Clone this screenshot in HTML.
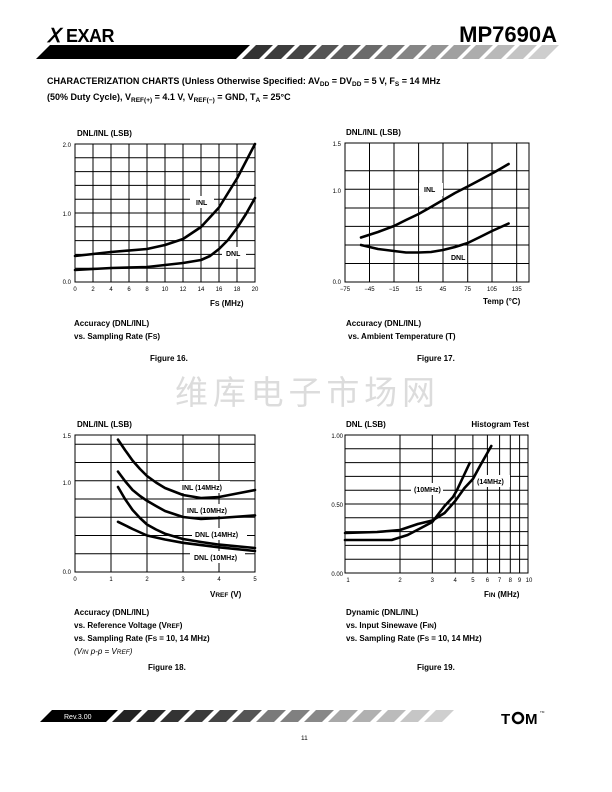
<!DOCTYPE html>
<html><head><meta charset="utf-8"><style>
html,body{margin:0;padding:0;background:#fff}
svg{display:block}
text{font-family:"Liberation Sans",Arial,sans-serif}
</style></head><body>
<svg width="612" height="792" viewBox="0 0 612 792" xmlns="http://www.w3.org/2000/svg">
<!-- Header -->
<text x="47" y="42" font-size="19" font-weight="bold" font-style="italic" fill="#000">Ⅹ</text>
<text x="66" y="42" font-size="18" font-weight="bold" fill="#000" letter-spacing="-0.5">EXAR</text>
<text x="557" y="42" font-size="22" font-weight="bold" text-anchor="end" fill="#000">MP7690A</text>
<polygon points="36,59 50,45 250,45 236,59" fill="#000"/>
<g>
<polygon points="242,59 256,45 273,45 259,59" fill="#333"/>
<polygon points="264,59 278,45 295,45 281,59" fill="#3c3c3c"/>
<polygon points="286,59 300,45 317,45 303,59" fill="#454545"/>
<polygon points="308,59 322,45 339,45 325,59" fill="#555"/>
<polygon points="330,59 344,45 361,45 347,59" fill="#5f5f5f"/>
<polygon points="352,59 366,45 383,45 369,59" fill="#6a6a6a"/>
<polygon points="374,59 388,45 405,45 391,59" fill="#777"/>
<polygon points="396,59 410,45 427,45 413,59" fill="#858585"/>
<polygon points="418,59 432,45 449,45 435,59" fill="#939393"/>
<polygon points="440,59 454,45 471,45 457,59" fill="#a0a0a0"/>
<polygon points="462,59 476,45 493,45 479,59" fill="#adadad"/>
<polygon points="484,59 498,45 515,45 501,59" fill="#b9b9b9"/>
<polygon points="506,59 520,45 537,45 523,59" fill="#c4c4c4"/>
<polygon points="528,59 542,45 559,45 545,59" fill="#cecece"/>
</g>
<text x="47" y="84" font-size="9" font-weight="bold">CHARACTERIZATION CHARTS (Unless Otherwise Specified:  AV<tspan font-size="6.5" dy="2">DD</tspan><tspan dy="-2"> = DV</tspan><tspan font-size="6.5" dy="2">DD</tspan><tspan dy="-2"> = 5 V, F</tspan><tspan font-size="6.5" dy="2">S</tspan><tspan dy="-2"> = 14 MHz</tspan></text>
<text x="47" y="100" font-size="9" font-weight="bold">(50% Duty Cycle), V<tspan font-size="6.5" dy="2">REF(+)</tspan><tspan dy="-2"> = 4.1 V, V</tspan><tspan font-size="6.5" dy="2">REF(−)</tspan><tspan dy="-2"> = GND, T</tspan><tspan font-size="6.5" dy="2">A</tspan><tspan dy="-2"> = 25°C</tspan></text>

<!-- Chart 16 -->
<g stroke="#000" stroke-width="1" fill="none">
<rect x="75" y="144" width="180" height="138"/>
<path d="M93,144V282M111,144V282M129,144V282M147,144V282M165,144V282M183,144V282M201,144V282M219,144V282M237,144V282"/>
<path d="M75,157.8H255M75,171.6H255M75,185.4H255M75,199.2H255M75,213H255M75,226.8H255M75,240.6H255M75,254.4H255M75,268.2H255"/>
</g>
<rect x="190" y="196" width="24" height="12" fill="#fff"/>
<rect x="222" y="247" width="24" height="12" fill="#fff"/>
<g stroke="#000" stroke-width="2.6" fill="none" stroke-linejoin="round" stroke-linecap="round">
<polyline points="75,256 111,252 147,249 165,245 183,239 201,227 219,207.5 237,178.5 255,144"/>
<polyline points="75,270 111,268 147,267 165,265 183,263 201,260 210,256 219,249 228,240 237,228 246,214 255,198"/>
</g>
<g font-size="7" font-weight="bold">
<text x="196" y="205">INL</text><text x="226" y="256">DNL</text>
<text x="77" y="136" font-size="8">DNL/INL (LSB)</text>
<text x="210" y="306" font-size="8">F<tspan font-size="7">S</tspan>   (MHz)</text>
</g>
<g font-size="6" text-anchor="end"><text x="71" y="147">2.0</text><text x="71" y="216">1.0</text><text x="71" y="284">0.0</text></g>
<g font-size="6" text-anchor="middle">
<text x="75" y="291">0</text><text x="93" y="291">2</text><text x="111" y="291">4</text><text x="129" y="291">6</text><text x="147" y="291">8</text><text x="165" y="291">10</text><text x="183" y="291">12</text><text x="201" y="291">14</text><text x="219" y="291">16</text><text x="237" y="291">18</text><text x="255" y="291">20</text>
</g>
<g font-size="8" font-weight="bold"><text x="74" y="326">Accuracy (DNL/INL)</text><text x="74" y="339">vs. Sampling Rate (F<tspan font-size="7">S</tspan>)</text><text x="150" y="361">Figure 16.</text></g>

<!-- Chart 17 -->
<g stroke="#000" stroke-width="1" fill="none">
<rect x="345" y="143" width="184" height="139"/>
<path d="M369.5,143V282M394,143V282M418.6,143V282M443,143V282M467.7,143V282M492,143V282M516.7,143V282"/>
<path d="M345,170.8H529M345,189.3H529M345,208H529M345,226.4H529M345,245H529M345,263.5H529"/>
</g>
<rect x="419" y="183" width="24" height="13" fill="#fff"/>
<g stroke="#000" stroke-width="2.6" fill="none" stroke-linejoin="round" stroke-linecap="round">
<polyline points="361,237.5 378,232 394,226 406,220 418.6,214 431,207 443,200 455,193 467.7,186.5 480,180 492,173.5 500,169 508.6,164"/>
<polyline points="361,245 378,249 394,251 406,252.5 418.6,252.5 431,252 443,250 455,247 467.7,243 480,237 492,231 508.6,223.5"/>
</g>
<g font-size="7" font-weight="bold"><text x="424" y="192">INL</text><text x="451" y="260">DNL</text>
<text x="346" y="135" font-size="8">DNL/INL (LSB)</text>
<text x="483" y="304" font-size="8">Temp (°C)</text></g>
<g font-size="6" text-anchor="end"><text x="341" y="146">1.5</text><text x="341" y="193">1.0</text><text x="341" y="284">0.0</text></g>
<g font-size="6" text-anchor="middle">
<text x="345" y="291">−75</text><text x="369.5" y="291">−45</text><text x="394" y="291">−15</text><text x="418.6" y="291">15</text><text x="443" y="291">45</text><text x="467.7" y="291">75</text><text x="492" y="291">105</text><text x="516.7" y="291">135</text>
</g>
<g font-size="8" font-weight="bold"><text x="346" y="326">Accuracy (DNL/INL)</text><text x="348" y="339">vs.  Ambient Temperature (T)</text><text x="417" y="361">Figure 17.</text></g>

<!-- Watermark -->
<text x="175" y="404" font-size="33" fill="#dcdcdc" font-family="'Noto Serif CJK SC','WenQuanYi Zen Hei',serif" textLength="260">维库电子市场网</text>

<!-- Chart 18 -->
<g stroke="#000" stroke-width="1" fill="none">
<rect x="75" y="435" width="180" height="137"/>
<path d="M111,435V572M147,435V572M183,435V572M219,435V572"/>
<path d="M75,444.2H255M75,462.5H255M75,480.7H255M75,499H255M75,517.2H255M75,535.5H255M75,553.7H255"/>
</g>
<rect x="180" y="481" width="50" height="12" fill="#fff"/>
<rect x="184" y="504" width="52" height="12" fill="#fff"/>
<rect x="192" y="528" width="55" height="12" fill="#fff"/>
<rect x="190" y="551" width="55" height="12" fill="#fff"/>
<g stroke="#000" stroke-width="2.6" fill="none" stroke-linejoin="round" stroke-linecap="round">
<polyline points="118,439.6 125,450 132.6,460.6 140,469 147,476 156,482.5 165,488 183,495 201,498 219,497 237,493.5 255,490"/>
<polyline points="118,471.6 125,481 132.6,490 140,496 147,500.8 156,506 165,511 183,517 201,519 219,518 255,515.4"/>
<polyline points="118,487 125,499 132.6,510 140,518 147,524.5 156,529.5 165,533.7 183,539 201,542 219,544.6 255,548"/>
<polyline points="118,521.8 132.6,529 147,535.5 165,539.5 183,542.8 219,547.3 255,551"/>
</g>
<g font-size="7" font-weight="bold">
<text x="182" y="490">INL (14MHz)</text><text x="187" y="513">INL (10MHz)</text><text x="195" y="537">DNL (14MHz)</text><text x="194" y="560">DNL (10MHz)</text>
<text x="77" y="427" font-size="8">DNL/INL (LSB)</text>
<text x="210" y="597" font-size="8">V<tspan font-size="6.5">REF</tspan>  (V)</text></g>
<g font-size="6" text-anchor="end"><text x="71" y="438">1.5</text><text x="71" y="485">1.0</text><text x="71" y="574">0.0</text></g>
<g font-size="6" text-anchor="middle">
<text x="75" y="581">0</text><text x="111" y="581">1</text><text x="147" y="581">2</text><text x="183" y="581">3</text><text x="219" y="581">4</text><text x="255" y="581">5</text>
</g>
<g font-size="8" font-weight="bold"><text x="74" y="615">Accuracy (DNL/INL)</text><text x="74" y="628">vs. Reference Voltage (V<tspan font-size="6.5">REF</tspan>)</text><text x="74" y="641">vs. Sampling Rate (F<tspan font-size="6.5">S</tspan> = 10, 14 MHz)</text></g>
<text x="74" y="654" font-size="8" font-style="italic">(V<tspan font-size="6.5">IN</tspan> p-p = V<tspan font-size="6.5">REF</tspan>)</text>
<text x="148" y="670" font-size="8" font-weight="bold">Figure 18.</text>

<!-- Chart 19 -->
<g stroke="#000" stroke-width="1" fill="none">
<rect x="345" y="435" width="183" height="138"/>
<path d="M400,435V573M432.3,435V573M455.2,435V573M472.9,435V573M487.4,435V573M499.6,435V573M510.3,435V573M519.6,435V573"/>
<path d="M345,448.8H528M345,462.6H528M345,476.4H528M345,490.2H528M345,504H528M345,517.8H528M345,531.6H528M345,545.4H528M345,559.2H528"/>
</g>
<rect x="411" y="483" width="32" height="12" fill="#fff"/>
<rect x="474" y="475" width="36" height="12" fill="#fff"/>
<g stroke="#000" stroke-width="2.6" fill="none" stroke-linejoin="round" stroke-linecap="round">
<polyline points="345,533 377,532 400,530 417.8,524 432.3,520.5 444.6,513 455.2,501 464.5,488 472.9,479 480.5,465 491.3,446"/>
<polyline points="345,540 391.7,540 407.6,535 421,528 432.3,522 444.6,506 453,497 457,490 469.7,463"/>
</g>
<g font-size="7" font-weight="bold">
<text x="414" y="492">(10MHz)</text><text x="477" y="484">(14MHz)</text>
<text x="346" y="427" font-size="8">DNL  (LSB)</text>
<text x="529" y="427" font-size="8" text-anchor="end">Histogram Test</text>
<text x="484" y="597" font-size="8">F<tspan font-size="6.5">IN</tspan> (MHz)</text></g>
<g font-size="6" text-anchor="end"><text x="343" y="438">1.00</text><text x="343" y="507">0.50</text><text x="343" y="576">0.00</text></g>
<g font-size="6" text-anchor="middle">
<text x="348" y="582">1</text><text x="400" y="582">2</text><text x="432.3" y="582">3</text><text x="455.2" y="582">4</text><text x="472.9" y="582">5</text><text x="487.4" y="582">6</text><text x="499.6" y="582">7</text><text x="510.3" y="582">8</text><text x="519.6" y="582">9</text><text x="529" y="582">10</text>
</g>
<g font-size="8" font-weight="bold"><text x="346" y="615">Dynamic (DNL/INL)</text><text x="346" y="628">vs. Input Sinewave (F<tspan font-size="6.5">IN</tspan>)</text><text x="346" y="641">vs. Sampling Rate (F<tspan font-size="6.5">S</tspan> = 10, 14 MHz)</text><text x="417" y="670">Figure 19.</text></g>

<!-- Footer -->
<polygon points="40,722 52,710 118,710 106,722" fill="#000"/>
<text x="64" y="719" font-size="7" fill="#fff">Rev.3.00</text>
<g>
<polygon points="112,722 124,710 142,710 130,722" fill="#222"/>
<polygon points="136,722 148,710 166,710 154,722" fill="#2a2a2a"/>
<polygon points="160,722 172,710 190,710 178,722" fill="#333"/>
<polygon points="184,722 196,710 214,710 202,722" fill="#3a3a3a"/>
<polygon points="208,722 220,710 238,710 226,722" fill="#444"/>
<polygon points="232,722 244,710 262,710 250,722" fill="#555"/>
<polygon points="256,722 268,710 286,710 274,722" fill="#7a7a7a"/>
<polygon points="280,722 292,710 310,710 298,722" fill="#808080"/>
<polygon points="304,722 316,710 334,710 322,722" fill="#888"/>
<polygon points="328,722 340,710 358,710 346,722" fill="#a8a8a8"/>
<polygon points="352,722 364,710 382,710 370,722" fill="#b0b0b0"/>
<polygon points="376,722 388,710 406,710 394,722" fill="#bbb"/>
<polygon points="400,722 412,710 430,710 418,722" fill="#c6c6c6"/>
<polygon points="424,722 436,710 454,710 442,722" fill="#cfcfcf"/>
</g>
<text x="501" y="724" font-size="15" font-weight="bold">T</text>
<circle cx="518" cy="718" r="5" fill="none" stroke="#000" stroke-width="2.5"/>
<text x="525" y="724" font-size="15" font-weight="bold">M</text>
<text x="540" y="713" font-size="3">TM</text>
<text x="301" y="740" font-size="6.5">11</text>
</svg>
</body></html>
